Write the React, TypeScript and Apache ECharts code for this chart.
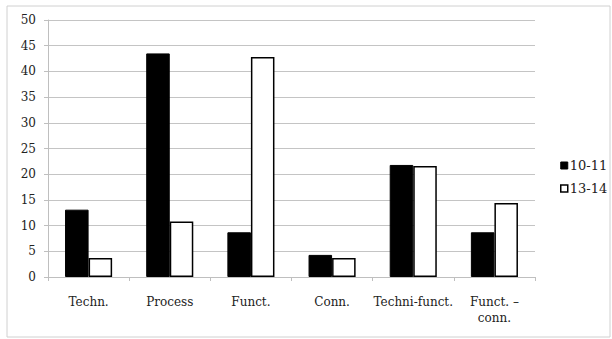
import React, { useEffect, useRef } from "react";
import * as echarts from "echarts";

const categories = ["Techn.", "Process", "Funct.", "Conn.", "Techni-funct.", "Funct. –\nconn."];
const series1011 = [13.1, 43.5, 8.7, 4.3, 21.8, 8.7];
const series1314 = [3.7, 10.8, 42.8, 3.7, 21.6, 14.4];
const seriesNames = ["10-11", "13-14"];

export default function App() {
  const ref = useRef<HTMLDivElement>(null);
  useEffect(() => {
    document.body.style.margin = "0";
    const chart = echarts.init(ref.current!, null, { renderer: "svg" });
    const font = "DejaVu Serif";
    chart.setOption({
      animation: false,
      backgroundColor: "#ffffff",
      textStyle: { fontFamily: font },
      graphic: [
        {
          type: "rect",
          shape: { x: 7, y: 6, width: 603, height: 331 },
          style: { fill: "none", stroke: "#d0d0d0", lineWidth: 1 },
          silent: true,
        },
      ],
      grid: { left: 48, right: 77, top: 20, bottom: 62 },
      legend: {
        orient: "vertical",
        left: 555,
        top: 154,
        itemWidth: 7,
        itemHeight: 7,
        itemGap: 10,
        icon: "rect",
        textStyle: { fontFamily: font, fontSize: 13, color: "#222", padding: [0, 0, 0, -3] },
        data: [
          { name: seriesNames[0], itemStyle: { color: "#000", borderColor: "#000", borderWidth: 1 } },
          { name: seriesNames[1], itemStyle: { color: "#fff", borderColor: "#000", borderWidth: 1.5 } },
        ],
      },
      xAxis: {
        type: "category",
        data: categories,
        axisLine: { lineStyle: { color: "#bfbfbf", width: 1 } },
        axisTick: { show: true, length: 4, lineStyle: { color: "#bfbfbf" } },
        axisLabel: { fontFamily: font, fontSize: 12, color: "#222", margin: 17, lineHeight: 16, interval: 0 },
      },
      yAxis: {
        type: "value",
        min: 0,
        max: 50,
        interval: 5,
        axisLine: { show: true, lineStyle: { color: "#bfbfbf", width: 1 } },
        axisTick: { show: true, length: 4, lineStyle: { color: "#bfbfbf" } },
        splitLine: { lineStyle: { color: "#c4c4c4", width: 1 } },
        axisLabel: { fontFamily: font, fontSize: 12, color: "#222", margin: 12 },
      },
      series: [
        {
          name: seriesNames[0],
          type: "bar",
          data: series1011,
          barGap: "0%",
          barCategoryGap: "42%",
          itemStyle: { color: "#000000", borderColor: "#000000", borderWidth: 1 },
        },
        {
          name: seriesNames[1],
          type: "bar",
          data: series1314,
          barGap: "0%",
          barCategoryGap: "42%",
          itemStyle: { color: "#ffffff", borderColor: "#000000", borderWidth: 1.5 },
        },
      ],
    });
    return () => chart.dispose();
  }, []);
  return <div ref={ref} style={{ width: 612, height: 339 }} />;
}
